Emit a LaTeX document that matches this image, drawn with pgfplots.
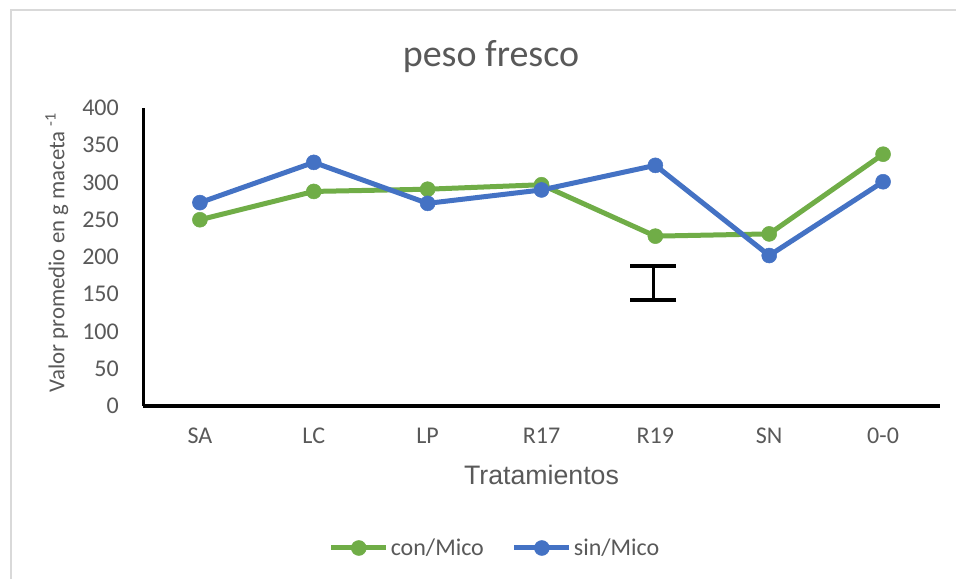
\documentclass[border=0pt]{standalone}
\usepackage{pgfplots}
\pgfplotsset{compat=1.18}
\usepackage{fontspec}
\setmainfont{Carlito}
\newfontfamily\arialf{Liberation Sans}
\definecolor{cgreen}{HTML}{70AD47}
\definecolor{cblue}{HTML}{4472C4}
\definecolor{ctext}{HTML}{595959}
\definecolor{cframe}{HTML}{D9D9D9}
\begin{document}
\begin{tikzpicture}
\useasboundingbox (0,0) rectangle (956bp,579bp);
\fill[white] (0,0) rectangle (956bp,579bp);
\draw[cframe, line width=2bp] (11bp,0) -- (11bp,569bp) -- (956bp,569bp);
\begin{axis}[
  at={(143bp,173bp)}, anchor=south west,
  scale only axis, width=797bp, height=298bp,
  xmin=-0.5, xmax=6.5, ymin=0, ymax=400,
  axis lines*=left,
  axis line style={black, line width=3bp, -},
  xtick={0,...,6}, xticklabels={SA,LC,LP,R17,R19,SN,0-0},
  ytick={0,50,...,400},
  major tick length=0pt,
  tick style={draw=none},
  /pgf/number format/assume math mode=true,
  ticklabel style={font=\fontsize{24bp}{28bp}\selectfont, text=ctext},
  xticklabel style={inner sep=0pt, anchor=north, yshift=-22bp},
  yticklabel style={inner sep=0pt, anchor=east, xshift=-24bp},
  title={peso fresco},
  title style={at={(0.4366,1.12)}, anchor=base, inner sep=0pt, font=\fontsize{38bp}{42bp}\selectfont, text=ctext},
  xlabel={Tratamientos},
  xlabel style={at={(0.5,-0.265)}, anchor=base, inner sep=0pt, font=\arialf\fontsize{26.7bp}{30bp}\selectfont, text=ctext},
  ylabel={Valor promedio en g maceta \textsuperscript{-1}},
  ylabel style={at={(-0.0985,0.515)}, anchor=base, inner sep=0pt, font=\fontsize{22.8bp}{26bp}\selectfont, text=ctext},
  legend style={at={(0.4417,-0.4765)}, anchor=center, draw=none, fill=none,
    legend columns=2, font=\fontsize{24bp}{28bp}\selectfont, text=ctext,
    /tikz/every even column/.append style={column sep=26bp},
    inner sep=0pt},
  legend cell align=left,
  legend image code/.code={\draw[mark repeat=2, mark phase=2, #1] plot coordinates {(0bp,0bp) (27.5bp,0bp) (55bp,0bp)};},
]
\addplot[cgreen, line width=5bp, mark=*, mark size=7.5bp, mark options={solid, fill=cgreen, draw=cgreen, line width=0.5bp}]
  coordinates {(0,250) (1,288) (2,291) (3,297) (4,228) (5,231) (6,338)};
\addplot[cblue, line width=5bp, mark=*, mark size=7.5bp, mark options={solid, fill=cblue, draw=cblue, line width=0.5bp}]
  coordinates {(0,273) (1,327) (2,272) (3,290) (4,323) (5,202) (6,301)};
\addplot[draw=none, mark=none, forget plot,
  error bars/.cd, y dir=both, y explicit,
  error bar style={draw=black, line width=3bp},
  error mark options={draw=black, rotate=90, mark size=23bp, line width=3.5bp}]
  coordinates {(3.98,165) +- (0,23)};
\legend{con/Mico, sin/Mico}
\end{axis}
\end{tikzpicture}
\end{document}
